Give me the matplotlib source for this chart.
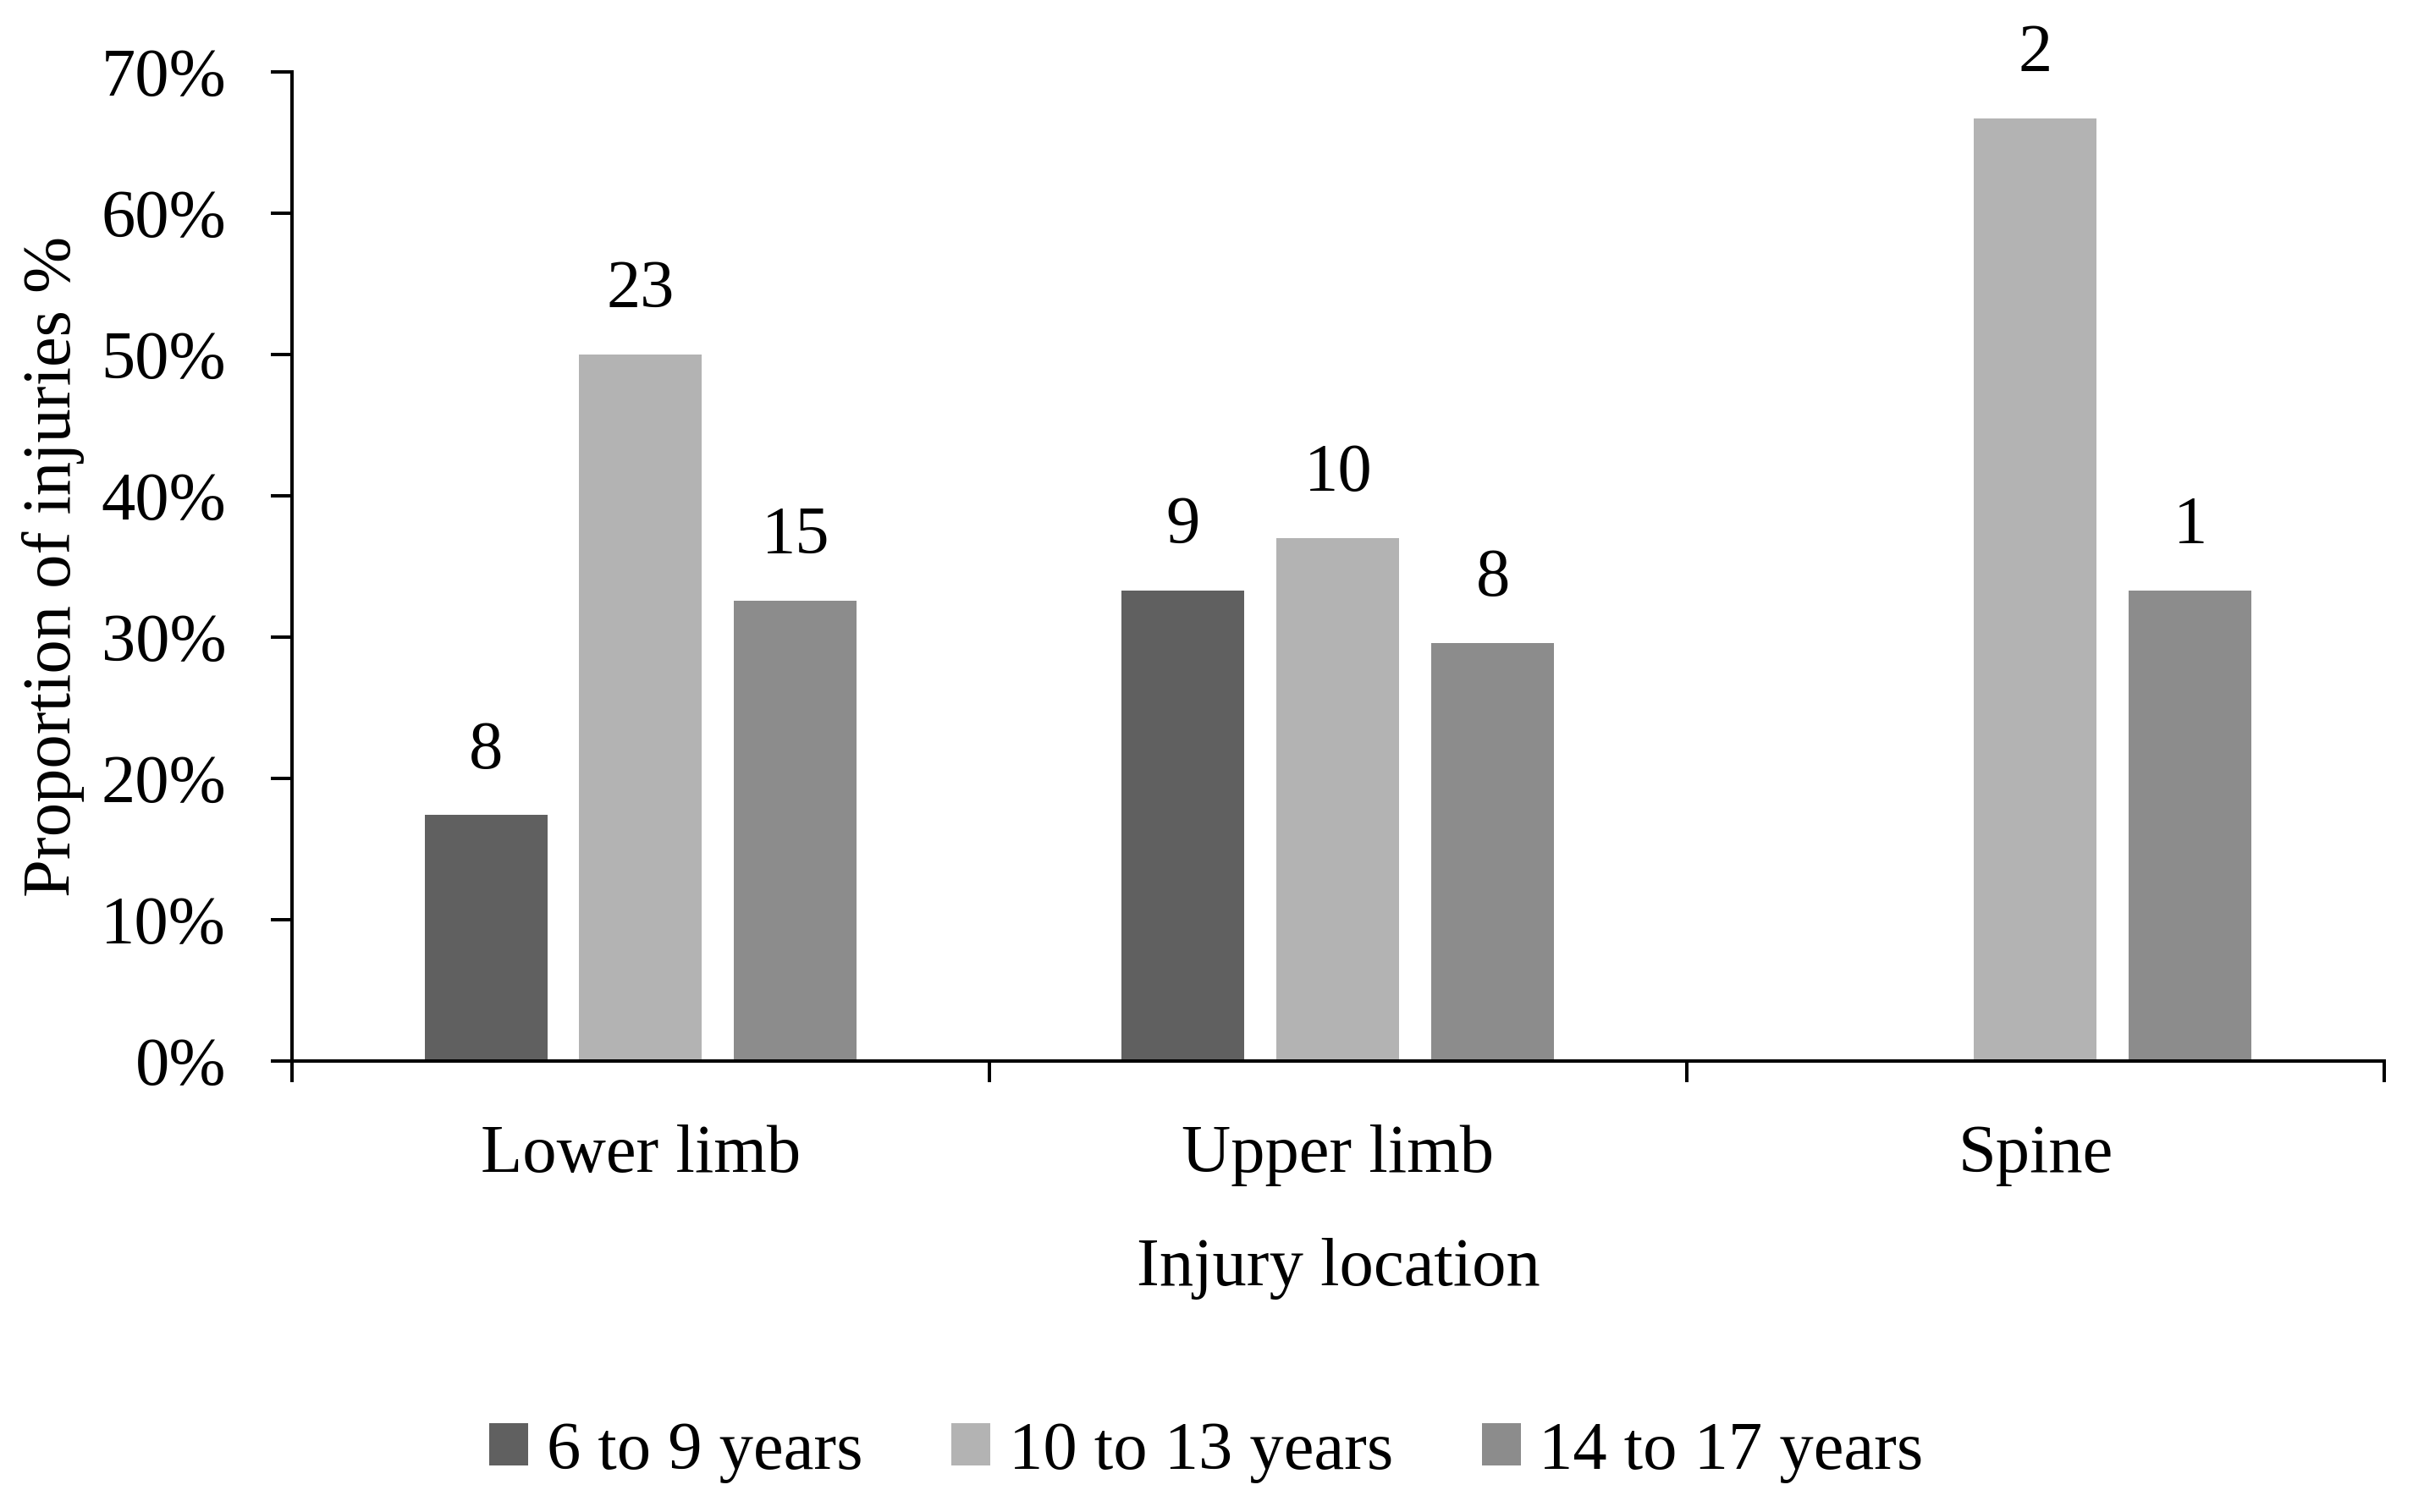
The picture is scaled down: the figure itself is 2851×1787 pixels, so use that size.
import matplotlib
matplotlib.use('Agg')
from matplotlib import pyplot as plt
import numpy as np

plt.rcParams['font.family'] = ['Liberation Serif', 'DejaVu Serif']

locations = ['Lower limb', 'Upper limb', 'Spine']
age_groups = ['6 to 9 years', '10 to 13 years', '14 to 17 years']
colors = ['#606060', '#b3b3b3', '#8c8c8c']

# proportion of injuries (%) per location, one list per age group
pct_6_9 = [17.4, 33.3, 0.0]
pct_10_13 = [50.0, 37.0, 66.7]
pct_14_17 = [32.6, 29.6, 33.3]

# counts shown above bars
n_6_9 = [8, 9, 0]
n_10_13 = [23, 10, 2]
n_14_17 = [15, 8, 1]

series = [pct_6_9, pct_10_13, pct_14_17]
counts = [n_6_9, n_10_13, n_14_17]

fig = plt.figure(figsize=(14.255, 8.935), dpi=200)
ax = fig.add_axes([0.121, 0.2983, 0.867, 0.654])

x = np.arange(len(locations))
width = 0.176
step = 0.222
fs = 29

for i, (vals, cnts) in enumerate(zip(series, counts)):
    xs = x + (i - 1) * step
    bars = ax.bar(xs, vals, width, color=colors[i], label=age_groups[i], zorder=2)
    for b, v, c in zip(bars, vals, cnts):
        if c == 0:
            continue
        ax.annotate(str(c), (b.get_x() + b.get_width() / 2, v), xytext=(0, 14),
                    textcoords='offset points', ha='center', va='bottom', fontsize=fs)

ax.set_xlim(-0.5, 2.5)
ax.set_ylim(0, 70)
ax.set_yticks(np.arange(0, 71, 10))
ax.set_yticklabels(['%d%%' % v for v in range(0, 71, 10)])

ax.set_xticks(x)
ax.set_xticklabels(locations)
ax.set_xticks([-0.5, 0.5, 1.5, 2.5], minor=True)
ax.tick_params(axis='x', which='major', length=0, pad=27, labelsize=fs)
ax.tick_params(axis='x', which='minor', length=9, width=1.44, direction='out')
ax.tick_params(axis='y', length=9, width=1.44, direction='out', pad=19, labelsize=fs)

for s in ['top', 'right']:
    ax.spines[s].set_visible(False)
for s in ['left', 'bottom']:
    ax.spines[s].set_linewidth(1.44)

ax.set_xlabel('Injury location', fontsize=fs, labelpad=22)
ax.set_ylabel('Proportion of injuries %', fontsize=fs, labelpad=7)

fig.legend(loc='center', bbox_to_anchor=(0.5, 0.0397), ncol=3, frameon=False,
           fontsize=fs, handlelength=0.57, handleheight=0.57, handletextpad=0.27,
           columnspacing=1.3)

fig.savefig('out.png', dpi=200, facecolor='white')
